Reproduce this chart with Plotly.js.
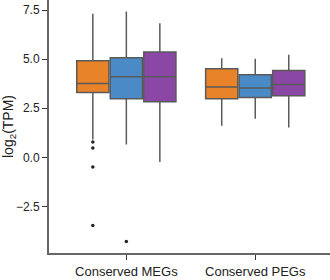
<!DOCTYPE html>
<html>
<head>
<meta charset="utf-8">
<script src="https://cdn.plot.ly/plotly-3.0.1.min.js"></script>
<style>html,body{margin:0;padding:0;background:#fff;}#chart{width:330px;height:280px;}</style>
</head>
<body>
<div id="chart"></div>
<script>
var categories = ["Conserved MEGs", "Conserved PEGs"];
var seriesNames = ["S1", "S2", "S3"];
var colors = ["#E8832A", "#4A8AC6", "#8B47A5"];
// precomputed box statistics per series, one value per category
var lowerFence = [[0.91, 1.61], [0.66, 1.97], [-0.24, 1.52]];
var q1Vals     = [[3.30, 2.98], [2.98, 3.05], [2.83, 3.14]];
var medianVals = [[3.76, 3.58], [4.10, 3.53], [4.10, 3.71]];
var q3Vals     = [[4.92, 4.51], [5.07, 4.20], [5.36, 4.42]];
var upperFence = [[7.31, 5.05], [7.42, 5.02], [6.83, 5.22]];
var outliers   = [[[0.78, 0.47, -0.49, -3.47], []], [[-4.28], []], null];
var yTicks = [-2.5, 0, 2.5, 5, 7.5];

var traces = seriesNames.map(function (name, i) {
  var t = {
    type: "box",
    name: name,
    x: categories,
    lowerfence: lowerFence[i],
    q1: q1Vals[i],
    median: medianVals[i],
    q3: q3Vals[i],
    upperfence: upperFence[i],
    boxpoints: outliers[i] ? "outliers" : false,
    jitter: 0,
    pointpos: 0,
    whiskerwidth: 0,
    fillcolor: colors[i],
    line: { color: "#5a5a5a", width: 1.5 },
    marker: { color: "#222", size: 3.5, outliercolor: "#222", line: { width: 0 } },
    hoverinfo: "none"
  };
  if (outliers[i]) t.y = outliers[i];
  return t;
});

var layout = {
  width: 330,
  height: 280,
  margin: { l: 49, r: 0, t: 0, b: 27 },
  paper_bgcolor: "#fff",
  plot_bgcolor: "#fff",
  showlegend: false,
  boxmode: "group",
  boxgap: 0.22,
  boxgroupgap: 0.04,
  font: { family: "Liberation Sans, Arial, sans-serif", color: "#222" },
  xaxis: {
    type: "category",
    range: [-0.6, 1.58],
    showline: true,
    linecolor: "#666",
    linewidth: 2,
    ticks: "outside",
    ticklen: 5,
    tickwidth: 1,
    tickcolor: "#333",
    tickfont: { size: 13, color: "#222" },
    showgrid: false,
    zeroline: false,
    fixedrange: true
  },
  yaxis: {
    range: [-4.87, 8.01],
    tickvals: yTicks,
    tickformat: ".1f",
    showline: true,
    linecolor: "#666",
    linewidth: 2,
    ticks: "outside",
    ticklen: 5,
    tickwidth: 1,
    tickcolor: "#333",
    tickfont: { size: 12, color: "#222" },
    showgrid: false,
    zeroline: false,
    title: { text: "log<sub>2</sub>(TPM)", font: { size: 14, color: "#222" }, standoff: 6 },
    fixedrange: true
  }
};

Plotly.newPlot("chart", traces, layout, { displayModeBar: false, staticPlot: true });
</script>
</body>
</html>
